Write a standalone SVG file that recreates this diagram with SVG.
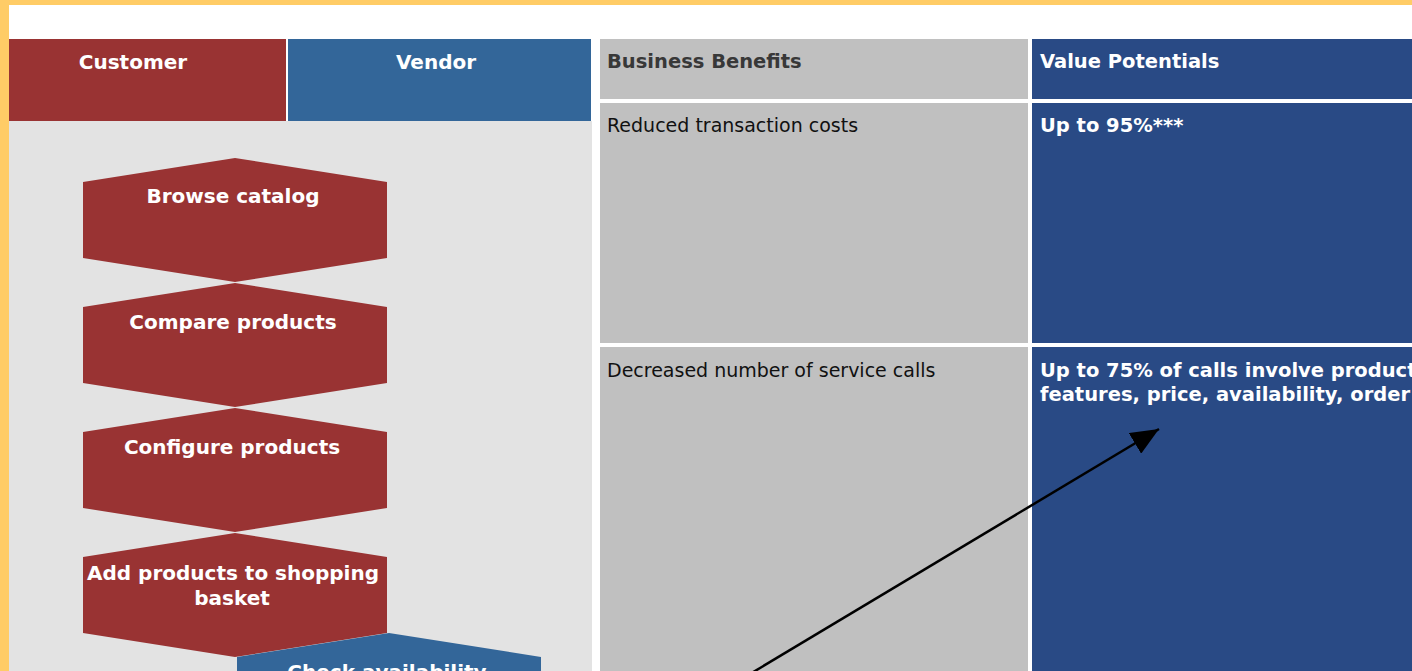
<svg xmlns="http://www.w3.org/2000/svg" width="1412" height="671" viewBox="0 0 1412 671">
  <defs>
    <style>
      .hex-red { fill: #993333; }
      .hex-blue { fill: #336699; }
      .hdr { font-family: "DejaVu Sans", "Liberation Sans", sans-serif; font-weight: bold; font-size: 20px; fill: #ffffff; }
      .hex-t { font-family: "DejaVu Sans", "Liberation Sans", sans-serif; font-weight: bold; font-size: 20px; fill: #ffffff; text-anchor: middle; }
      .th-dark { font-family: "DejaVu Sans", "Liberation Sans", sans-serif; font-weight: bold; font-size: 19.5px; fill: #383838; }
      .th-light { font-family: "DejaVu Sans", "Liberation Sans", sans-serif; font-weight: bold; font-size: 19.5px; fill: #ffffff; }
      .cell { font-family: "DejaVu Sans", "Liberation Sans", sans-serif; font-size: 19px; fill: #111111; }
      .cell-v { font-family: "DejaVu Sans", "Liberation Sans", sans-serif; font-weight: bold; font-size: 19.5px; fill: #ffffff; }
      .gray-cell { fill: #c0c0c0; }
      .blue-cell { fill: #294a85; }
    </style>
    <marker id="arrow" viewBox="0 0 28 24" refX="28" refY="12" markerWidth="28" markerHeight="24" markerUnits="userSpaceOnUse" orient="auto">
      <path d="M0,0 L28,12 L0,24 z" fill="#000000"/>
    </marker>
  </defs>

  <!-- frame -->
  <rect x="0" y="0" width="1412" height="671" fill="#ffcc66"/>
  <rect x="9" y="5" width="1403" height="666" fill="#ffffff"/>

  <!-- left swimlane panel -->
  <g id="lane-panel">
    <rect x="9" y="121" width="583" height="550" fill="#e3e3e3"/>
  </g>
  <g id="customer-header">
    <rect x="9" y="39" width="277" height="82" fill="#993333"/>
    <text class="hdr" x="133" y="69" text-anchor="middle">Customer</text>
  </g>
  <g id="vendor-header">
    <rect x="288" y="39" width="303" height="82" fill="#336699"/>
    <text class="hdr" x="436" y="69" text-anchor="middle">Vendor</text>
  </g>

  <!-- process steps -->
  <g id="browse-catalog">
    <polygon class="hex-red" points="235,158 387,182 387,258 235,282 83,258 83,182"/>
    <text class="hex-t" x="233" y="203">Browse catalog</text>
  </g>
  <g id="compare-products">
    <polygon class="hex-red" points="235,283 387,307 387,383 235,407 83,383 83,307"/>
    <text class="hex-t" x="233" y="329">Compare products</text>
  </g>
  <g id="configure-products">
    <polygon class="hex-red" points="235,408 387,432 387,508 235,532 83,508 83,432"/>
    <text class="hex-t" x="232" y="454">Configure products</text>
  </g>
  <g id="add-to-basket">
    <polygon class="hex-red" points="235,533 387,557 387,633 235,657 83,633 83,557"/>
    <text class="hex-t" x="233" y="580">Add products to shopping</text>
    <text class="hex-t" x="232" y="605">basket</text>
  </g>
  <g id="check-availability">
    <polygon class="hex-blue" points="389,633 541,657 541,733 389,757 237,733 237,657"/>
    <text class="hex-t" x="387" y="679">Check availability</text>
  </g>

  <!-- table -->
  <g id="business-benefits-header">
    <rect class="gray-cell" x="600" y="39" width="428" height="60"/>
    <text class="th-dark" x="607" y="68">Business Benefits</text>
  </g>
  <g id="value-potentials-header">
    <rect class="blue-cell" x="1032" y="39" width="380" height="60"/>
    <text class="th-light" x="1040" y="68">Value Potentials</text>
  </g>
  <g id="benefit-1">
    <rect class="gray-cell" x="600" y="103" width="428" height="240"/>
    <text class="cell" x="607" y="132">Reduced transaction costs</text>
  </g>
  <g id="value-1">
    <rect class="blue-cell" x="1032" y="103" width="380" height="240"/>
    <text class="cell-v" x="1040" y="132">Up to 95%***</text>
  </g>
  <g id="benefit-2">
    <rect class="gray-cell" x="600" y="347" width="428" height="324"/>
    <text class="cell" x="607" y="377">Decreased number of service calls</text>
  </g>
  <g id="value-2">
    <rect class="blue-cell" x="1032" y="347" width="380" height="324"/>
    <text class="cell-v" x="1040" y="377">Up to 75% of calls involve product</text>
    <text class="cell-v" x="1040" y="401">features, price, availability, order</text>
  </g>

  <!-- connectors -->
  <g id="connectors">
    <line x1="740" y1="680" x2="1159" y2="429" stroke="#000000" stroke-width="2.5" marker-end="url(#arrow)"/>
  </g>
</svg>
